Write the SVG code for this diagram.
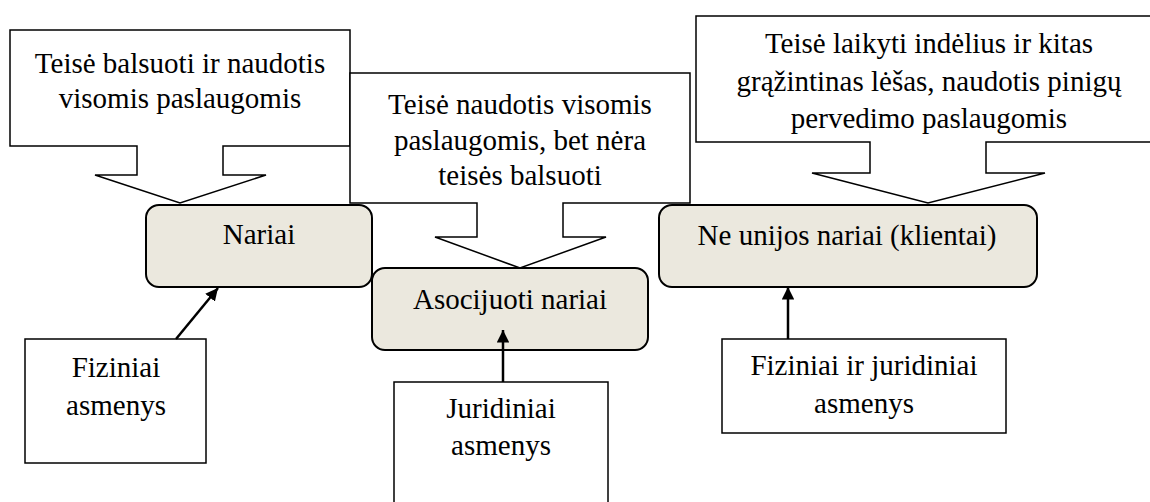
<svg xmlns="http://www.w3.org/2000/svg" width="1150" height="502" viewBox="0 0 1150 502">
<style>
.co{fill:#fff;stroke:#000;stroke-width:1.5}
.nd{fill:#EBE8DE;stroke:#000;stroke-width:2}
.bx{fill:#fff;stroke:#000;stroke-width:1.5}
text{font-family:'Liberation Serif','Times New Roman',serif;font-size:29px;fill:#000;text-anchor:middle}
.cn{stroke:#000;stroke-width:2.5;fill:none}
</style>
<defs>
<marker id="ah" viewBox="0 0 10 10" refX="10" refY="5" markerWidth="5" markerHeight="5" orient="auto" markerUnits="strokeWidth">
<path d="M0,0 L10,5 L0,10 Z" fill="#000"/>
</marker>
</defs>
<g id="callout1">
<path class="co" d="M10,30 H350 V146 H223 V175 H266 L180,203 L95,175 H137 V146 H10 Z"/>
<text x="180" y="73">Teisė balsuoti ir naudotis</text>
<text x="180" y="108">visomis paslaugomis</text>
</g>
<g id="callout2">
<path class="co" d="M350,73 H690 V203 H563 V237 H606 L520,268 L435,237 H477 V203 H350 Z"/>
<text x="520" y="114">Teisė naudotis visomis</text>
<text x="520" y="150">paslaugomis, bet nėra</text>
<text x="520" y="185">teisės balsuoti</text>
</g>
<g id="callout3">
<path class="co" d="M696,16 H1160 V142 H986 V173 H1045 L928,203 L812,173 H870 V142 H696 Z"/>
<text x="929" y="53">Teisė laikyti indėlius ir kitas</text>
<text x="929" y="91">grąžintinas lėšas, naudotis pinigų</text>
<text x="929" y="128">pervedimo paslaugomis</text>
</g>
<g id="nariai">
<rect class="nd" x="146" y="205" width="226" height="82" rx="13"/>
<text x="259" y="244">Nariai</text>
</g>
<g id="asocijuoti">
<rect class="nd" x="372" y="268" width="276" height="82" rx="13"/>
<text x="510" y="309">Asocijuoti nariai</text>
</g>
<g id="neunijos">
<rect class="nd" x="659" y="205" width="378" height="82" rx="13"/>
<text x="847" y="245">Ne unijos nariai (klientai)</text>
</g>
<g id="fiziniai">
<rect class="bx" x="25" y="339" width="181" height="124"/>
<text x="116" y="377">Fiziniai</text>
<text x="116" y="415">asmenys</text>
</g>
<g id="juridiniai">
<rect class="bx" x="394" y="382" width="214" height="130"/>
<text x="501" y="418">Juridiniai</text>
<text x="501" y="455">asmenys</text>
</g>
<g id="fizjur">
<rect class="bx" x="722" y="339" width="284" height="94"/>
<text x="864" y="375">Fiziniai ir juridiniai</text>
<text x="864" y="413">asmenys</text>
</g>
<g id="connectors">
<line class="cn" x1="176" y1="339" x2="218" y2="288" marker-end="url(#ah)"/>
<line class="cn" x1="503" y1="382" x2="503" y2="330" marker-end="url(#ah)"/>
<line class="cn" x1="788" y1="339" x2="788" y2="287" marker-end="url(#ah)"/>
</g>
</svg>
